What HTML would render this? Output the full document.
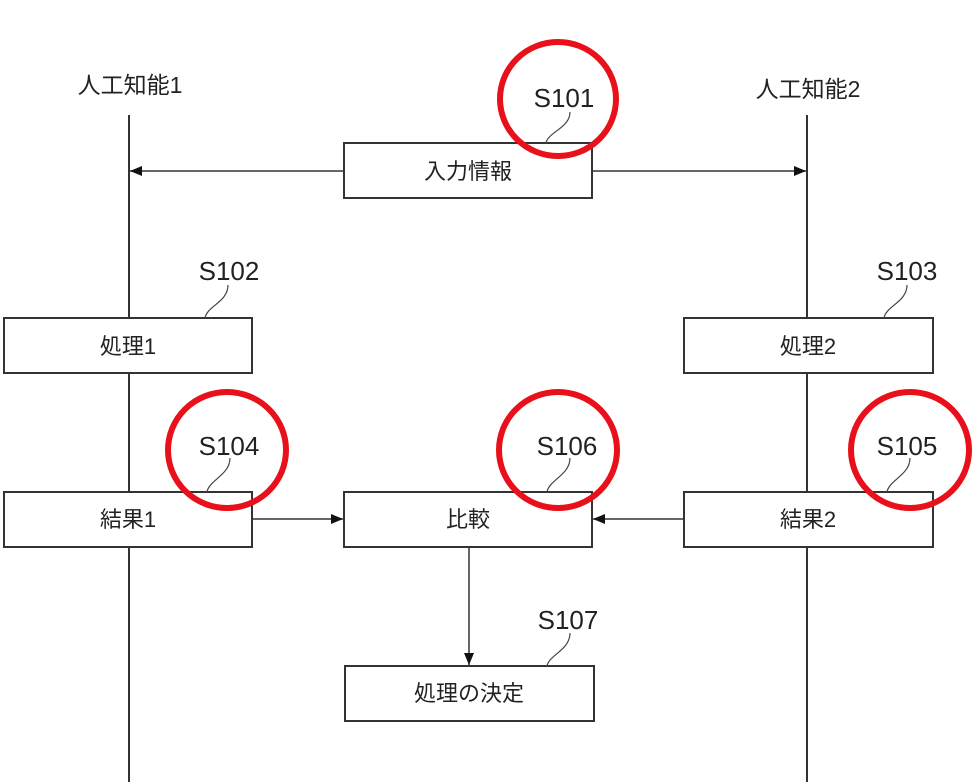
<!DOCTYPE html>
<html><head><meta charset="utf-8"><style>
html,body{margin:0;padding:0;background:#fff;}
svg{display:block;}
text{font-family:"Liberation Sans","Noto Sans CJK JP",sans-serif;fill:#222;}
</style></head><body>
<svg width="978" height="782" viewBox="0 0 978 782" xmlns="http://www.w3.org/2000/svg">
<defs>
<marker id="a" markerWidth="12" markerHeight="10" refX="12" refY="5" orient="auto" markerUnits="userSpaceOnUse"><path d="M0,0 L12,5 L0,10 z" fill="#111"/></marker>
</defs>
<g stroke="#333" stroke-width="2" fill="none">
<line x1="129" y1="115" x2="129" y2="782"/>
<line x1="807" y1="115" x2="807" y2="782"/>
</g>
<g stroke="#333" stroke-width="1.5" fill="none">
<line x1="344" y1="171" x2="130" y2="171" marker-end="url(#a)"/>
<line x1="592" y1="171" x2="806" y2="171" marker-end="url(#a)"/>
<line x1="252" y1="519" x2="343" y2="519" marker-end="url(#a)"/>
<line x1="684" y1="519" x2="593" y2="519" marker-end="url(#a)"/>
<line x1="469" y1="547" x2="469" y2="665" marker-end="url(#a)"/>
</g>
<g stroke="#333" stroke-width="2" fill="#fff">
<rect x="344" y="143" width="248" height="55"/>
<rect x="4" y="318" width="248" height="55"/>
<rect x="684" y="318" width="249" height="55"/>
<rect x="4" y="492" width="248" height="55"/>
<rect x="344" y="492" width="248" height="55"/>
<rect x="684" y="492" width="249" height="55"/>
<rect x="345" y="666" width="249" height="55"/>
</g>
<g font-size="22" text-anchor="middle">
<text x="468" y="179">入力情報</text>
<text x="128" y="354">処理1</text>
<text x="808" y="354">処理2</text>
<text x="128" y="527">結果1</text>
<text x="468" y="527">比較</text>
<text x="808" y="527">結果2</text>
<text x="469" y="701">処理の決定</text>
</g>
<g font-size="23" text-anchor="middle">
<text x="130" y="93">人工知能1</text>
<text x="808" y="97">人工知能2</text>
</g>
<g font-size="26" text-anchor="middle">
<text x="564" y="107">S101</text>
<text x="229" y="280">S102</text>
<text x="907" y="280">S103</text>
<text x="229" y="455">S104</text>
<text x="567" y="455">S106</text>
<text x="907" y="455">S105</text>
<text x="568" y="629">S107</text>
</g>
<g stroke="#444" stroke-width="1.2" fill="none">
<path d="M570,112 C570,128 548,132 546,143"/>
<path d="M228,285 C228,302 207,306 205,318"/>
<path d="M907,285 C907,302 886,306 884,318"/>
<path d="M230,458 C230,475 209,480 207,492"/>
<path d="M570,458 C570,475 549,480 547,492"/>
<path d="M910,458 C910,475 889,480 887,492"/>
<path d="M570,633 C570,650 549,655 547,666"/>
</g>
<g stroke="#e8101a" stroke-width="6" fill="none">
<ellipse cx="558" cy="99" rx="58" ry="57"/>
<ellipse cx="227" cy="450" rx="59" ry="58"/>
<ellipse cx="558" cy="450" rx="59" ry="58"/>
<ellipse cx="910" cy="450" rx="59" ry="58"/>
</g>
</svg>
</body></html>
